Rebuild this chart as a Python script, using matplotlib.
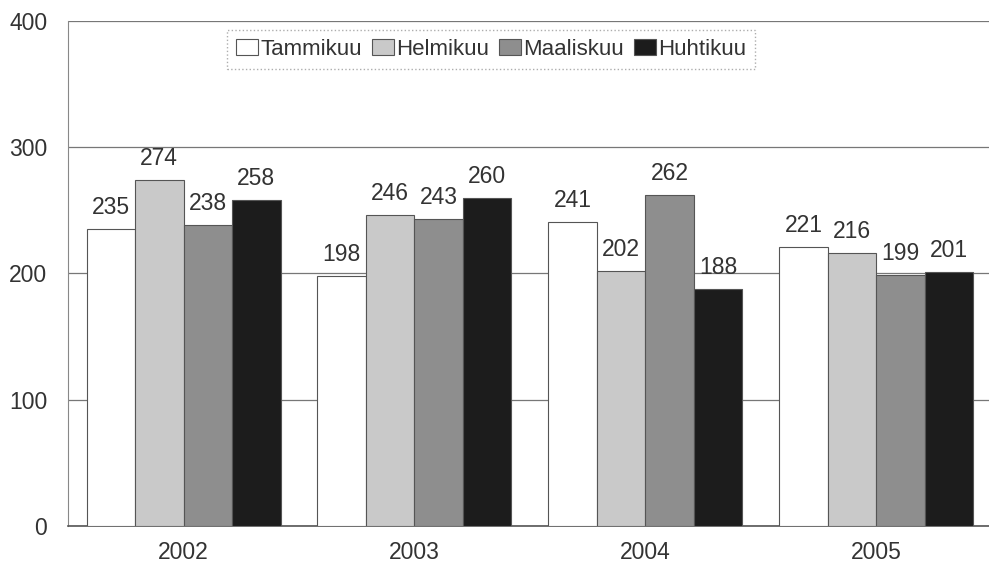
import numpy as np
import matplotlib.pyplot as plt

plt.rcParams['font.family'] = ['Liberation Sans', 'DejaVu Sans']

years = ['2002', '2003', '2004', '2005']
months = ['Tammikuu', 'Helmikuu', 'Maaliskuu', 'Huhtikuu']
tammikuu = [235, 198, 241, 221]
helmikuu = [274, 246, 202, 216]
maaliskuu = [238, 243, 262, 199]
huhtikuu = [258, 260, 188, 201]
colors = ['#ffffff', '#c9c9c9', '#8e8e8e', '#1c1c1c']

fig = plt.figure(figsize=(9.89, 5.65), dpi=100)
ax = fig.add_axes([0.0688, 0.069, 0.934, 0.894])

x = np.arange(len(years))
width = 0.21
series = [tammikuu, helmikuu, maaliskuu, huhtikuu]
for i, (vals, name, c) in enumerate(zip(series, months, colors)):
    pos = x + (i - 1.5) * width
    bars = ax.bar(pos, vals, width, color=c, edgecolor='#555555',
                  linewidth=0.8, label=name, zorder=3)
    for b, v in zip(bars, vals):
        ax.text(b.get_x() + b.get_width() / 2, v + 8, str(v),
                ha='center', va='bottom', fontsize=16.5, color='#333333')

ax.set_xlim(-0.5, 3.5)
ax.set_ylim(0, 400)
ax.set_yticks([0, 100, 200, 300, 400])
ax.set_xticks(x)
ax.set_xticklabels(years)
ax.tick_params(axis='both', length=0, labelsize=16.5, labelcolor='#333333')
ax.tick_params(axis='y', pad=15)
ax.tick_params(axis='x', pad=11)
ax.yaxis.grid(True, color='#777777', linewidth=0.9, zorder=0)
for s in ['top', 'right']:
    ax.spines[s].set_visible(False)
ax.spines['left'].set_color('#888888')
ax.spines['bottom'].set_color('#555555')
ax.spines['bottom'].set_linewidth(1.2)

leg = ax.legend(loc='upper center', bbox_to_anchor=(0.458, 0.982), ncol=4,
                fontsize=16, frameon=True, fancybox=False, handlelength=1.0,
                handleheight=0.75, handletextpad=0.1, columnspacing=0.45,
                borderpad=0.4, borderaxespad=0, labelcolor='#333333')
leg.get_frame().set_edgecolor('#999999')
leg.get_frame().set_linestyle(':')
leg.get_frame().set_linewidth(1.0)

fig.savefig('out.png', dpi=100)
